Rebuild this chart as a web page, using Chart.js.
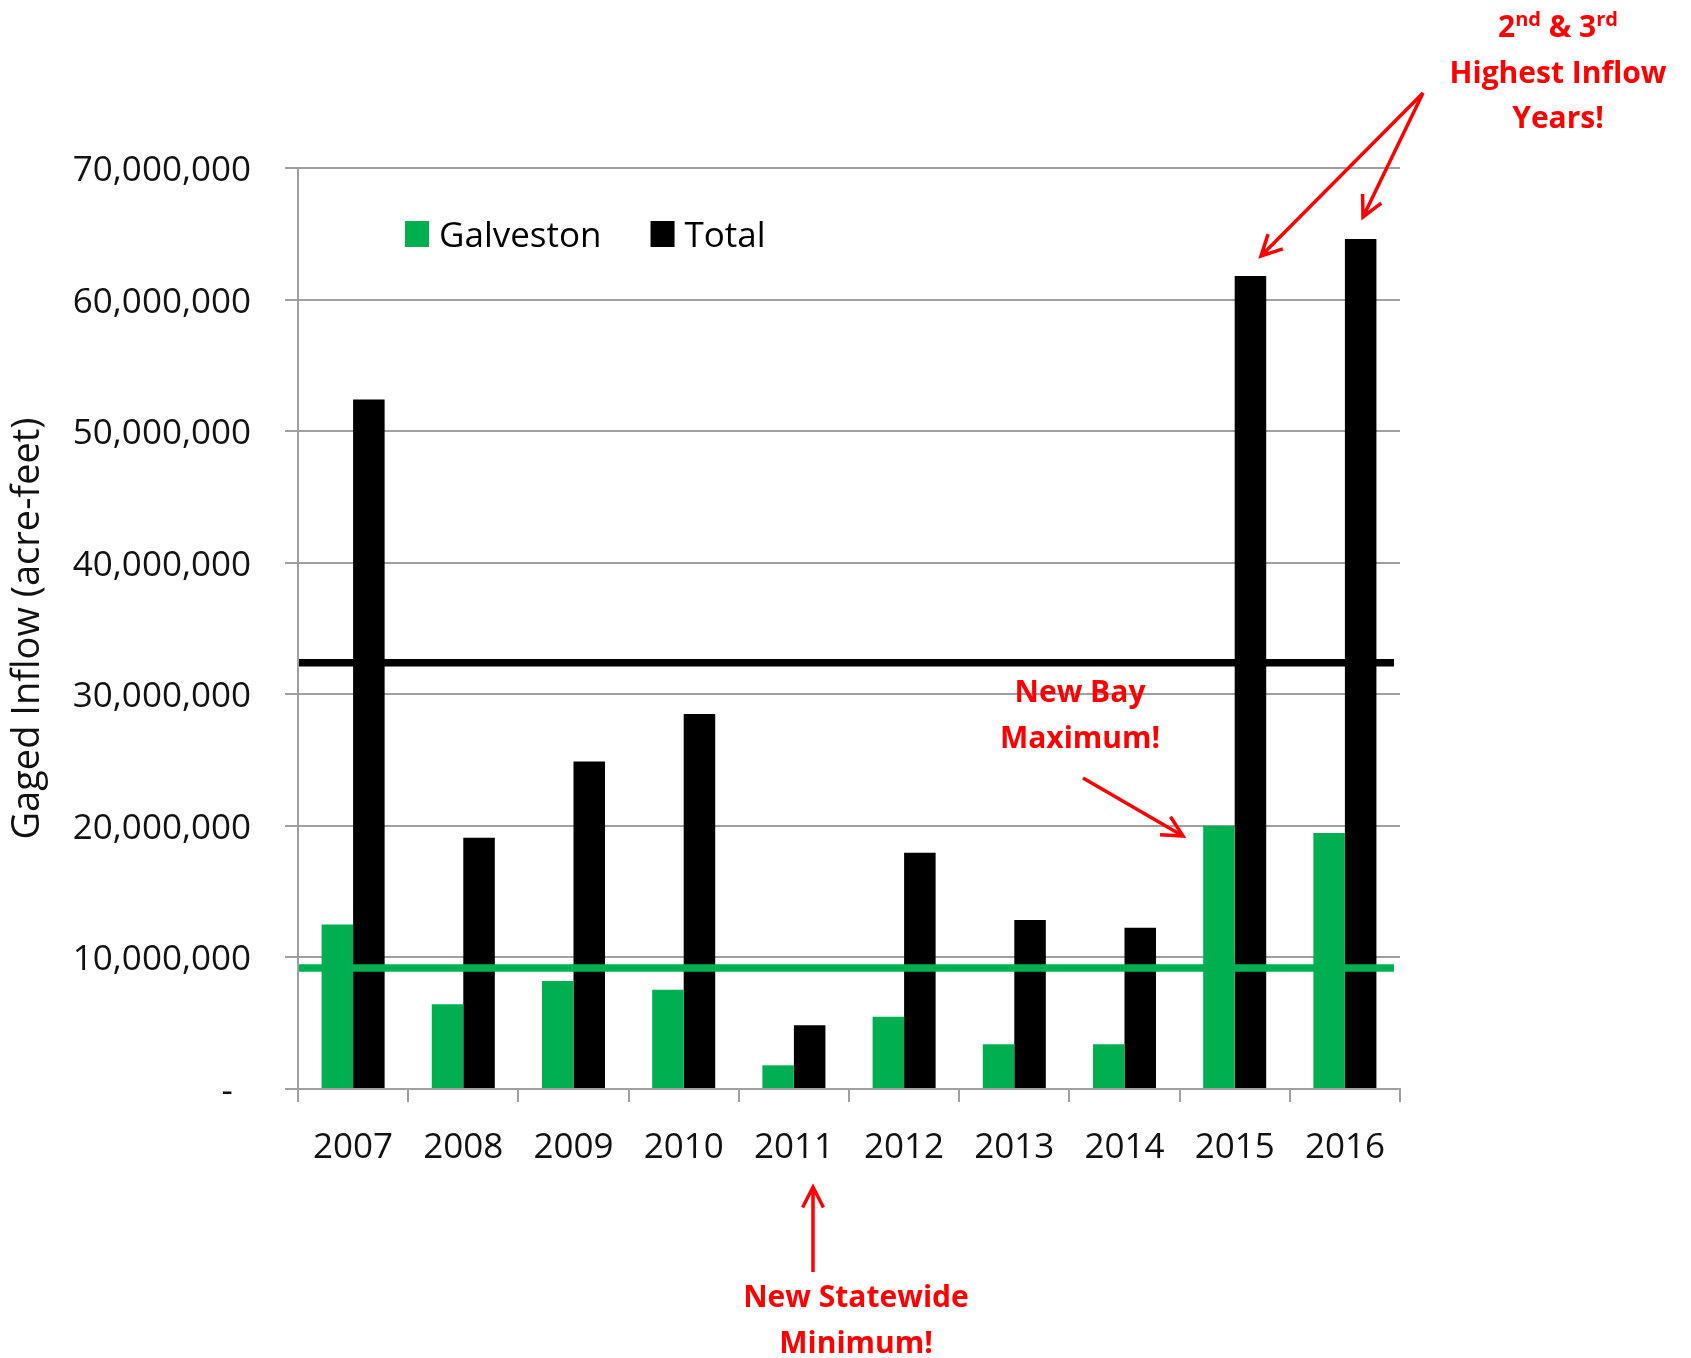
<!DOCTYPE html>
<html lang="en">
<head>
<meta charset="UTF-8" />
<title>Gaged Inflow</title>
<script src="https://cdn.jsdelivr.net/npm/chart.js@4.4.1/dist/chart.umd.min.js"></script>
<style>
  html, body { margin: 0; padding: 0; background: #fff; }
  #wrap { width: 1691px; height: 1358px; }
</style>
</head>
<body>
<div id="wrap"><canvas id="inflowChart" width="1691" height="1358"></canvas></div>
<script>
// yearly gaged inflow, acre-feet
const years = ["2007", "2008", "2009", "2010", "2011", "2012", "2013", "2014", "2015", "2016"];
const galveston = [12500000, 6450000, 8200000, 7550000, 1800000, 5500000, 3400000, 3400000, 20000000, 19450000];
const total = [52400000, 19100000, 24900000, 28500000, 4850000, 17950000, 12850000, 12250000, 61800000, 64600000];

// long-term averages drawn as horizontal reference lines
const galvestonAverage = 9200000;
const totalAverage = 32400000;

const yMax = 70000000;
const yStep = 10000000;

const GREEN = "#00b050";
const AXIS_GRAY = "#a0a0a0";
const RED = "#ff0000";
const FONT = "'Open Sans', sans-serif";

const averageLines = {
  id: "averageLines",
  afterDatasetsDraw(chart) {
    const { ctx, chartArea, scales: { y } } = chart;
    ctx.save();
    ctx.lineWidth = 7.5;
    [[totalAverage, "#000000"], [galvestonAverage, GREEN]].forEach(([value, color]) => {
      const py = y.getPixelForValue(value);
      ctx.strokeStyle = color;
      ctx.beginPath();
      ctx.moveTo(chartArea.left + 1, py);
      ctx.lineTo(chartArea.right - 6, py);
      ctx.stroke();
    });
    ctx.restore();
  }
};

// legend sits inside the plot, near the top left
const innerLegend = {
  id: "innerLegend",
  afterDraw(chart) {
    const { ctx, chartArea } = chart;
    let x = chartArea.left + 107;
    const baseline = chartArea.top + 78.5;
    ctx.save();
    ctx.font = `35px ${FONT}`;
    ctx.textBaseline = "alphabetic";
    chart.data.datasets.forEach((ds) => {
      ctx.fillStyle = ds.backgroundColor;
      ctx.fillRect(x, baseline - 25.5, 24, 26);
      ctx.fillStyle = "#000";
      ctx.fillText(ds.label, x + 34, baseline);
      x += 34 + ctx.measureText(ds.label).width + 49;
    });
    ctx.restore();
  }
};

function drawArrow(ctx, x1, y1, x2, y2) {
  const angle = Math.atan2(y2 - y1, x2 - x1);
  const head = 23;
  const spread = 0.47;
  ctx.beginPath();
  ctx.moveTo(x1, y1);
  ctx.lineTo(x2, y2);
  ctx.moveTo(x2 - head * Math.cos(angle - spread), y2 - head * Math.sin(angle - spread));
  ctx.lineTo(x2, y2);
  ctx.lineTo(x2 - head * Math.cos(angle + spread), y2 - head * Math.sin(angle + spread));
  ctx.stroke();
}

// text runs: [text, isSuperscript]
function drawRuns(ctx, runs, cx, baseline) {
  const big = `bold 30px ${FONT}`;
  const small = `bold 20px ${FONT}`;
  let width = 0;
  runs.forEach(([t, sup]) => { ctx.font = sup ? small : big; width += ctx.measureText(t).width; });
  let x = cx - width / 2;
  runs.forEach(([t, sup]) => {
    ctx.font = sup ? small : big;
    ctx.fillText(t, x, sup ? baseline - 11 : baseline);
    x += ctx.measureText(t).width;
  });
}

const callouts = {
  id: "callouts",
  afterDraw(chart) {
    const { ctx } = chart;
    ctx.save();
    ctx.fillStyle = RED;
    ctx.strokeStyle = RED;
    ctx.lineWidth = 3.5;
    ctx.textBaseline = "alphabetic";
    ctx.textAlign = "left";

    drawRuns(ctx, [["2", false], ["nd", true], [" & 3", false], ["rd", true]], 1558, 37);
    drawRuns(ctx, [["Highest Inflow", false]], 1558, 82.5);
    drawRuns(ctx, [["Years!", false]], 1558, 128);
    drawArrow(ctx, 1423, 93, 1261, 256);
    drawArrow(ctx, 1423, 93, 1363, 217);

    drawRuns(ctx, [["New Bay", false]], 1080, 702);
    drawRuns(ctx, [["Maximum!", false]], 1080, 748);
    drawArrow(ctx, 1083, 778, 1183, 836);

    drawArrow(ctx, 813, 1272, 813, 1187);
    drawRuns(ctx, [["New Statewide", false]], 856, 1307);
    drawRuns(ctx, [["Minimum!", false]], 856, 1353);
    ctx.restore();
  }
};

new Chart(document.getElementById("inflowChart"), {
  type: "bar",
  data: {
    labels: years,
    datasets: [
      { label: "Galveston", data: galveston, backgroundColor: GREEN, borderWidth: 0 },
      { label: "Total", data: total, backgroundColor: "#000000", borderWidth: 0 }
    ]
  },
  options: {
    responsive: false,
    animation: false,
    devicePixelRatio: 1,
    layout: { padding: { top: 168, right: 291, left: 0, bottom: 0 } },
    datasets: { bar: { categoryPercentage: 0.572, barPercentage: 1.0 } },
    plugins: { legend: { display: false }, tooltip: { enabled: false } },
    scales: {
      x: {
        grid: { drawOnChartArea: false, drawTicks: true, tickLength: 13, color: AXIS_GRAY, lineWidth: 2 },
        border: { color: AXIS_GRAY, width: 2 },
        ticks: { font: { family: FONT, size: 35 }, color: "#111", padding: 25 },
        afterFit(scale) { scale.height = 269; }
      },
      y: {
        min: 0,
        max: yMax,
        ticks: {
          stepSize: yStep,
          font: { family: FONT, size: 35 },
          color: "#111",
          padding: 34,
          labelOffset: 3,
          callback: (v) => (v === 0 ? "-  " : v.toLocaleString("en-US"))
        },
        grid: { color: AXIS_GRAY, lineWidth: 2, tickLength: 13 },
        border: { color: AXIS_GRAY, width: 2 },
        title: {
          display: true,
          text: "Gaged Inflow (acre-feet)",
          font: { family: FONT, size: 38 },
          color: "#111",
          padding: { top: 5, bottom: 0 }
        },
        afterFit(scale) { scale.width = 298; }
      }
    }
  },
  plugins: [averageLines, innerLegend, callouts]
});
</script>
</body>
</html>
